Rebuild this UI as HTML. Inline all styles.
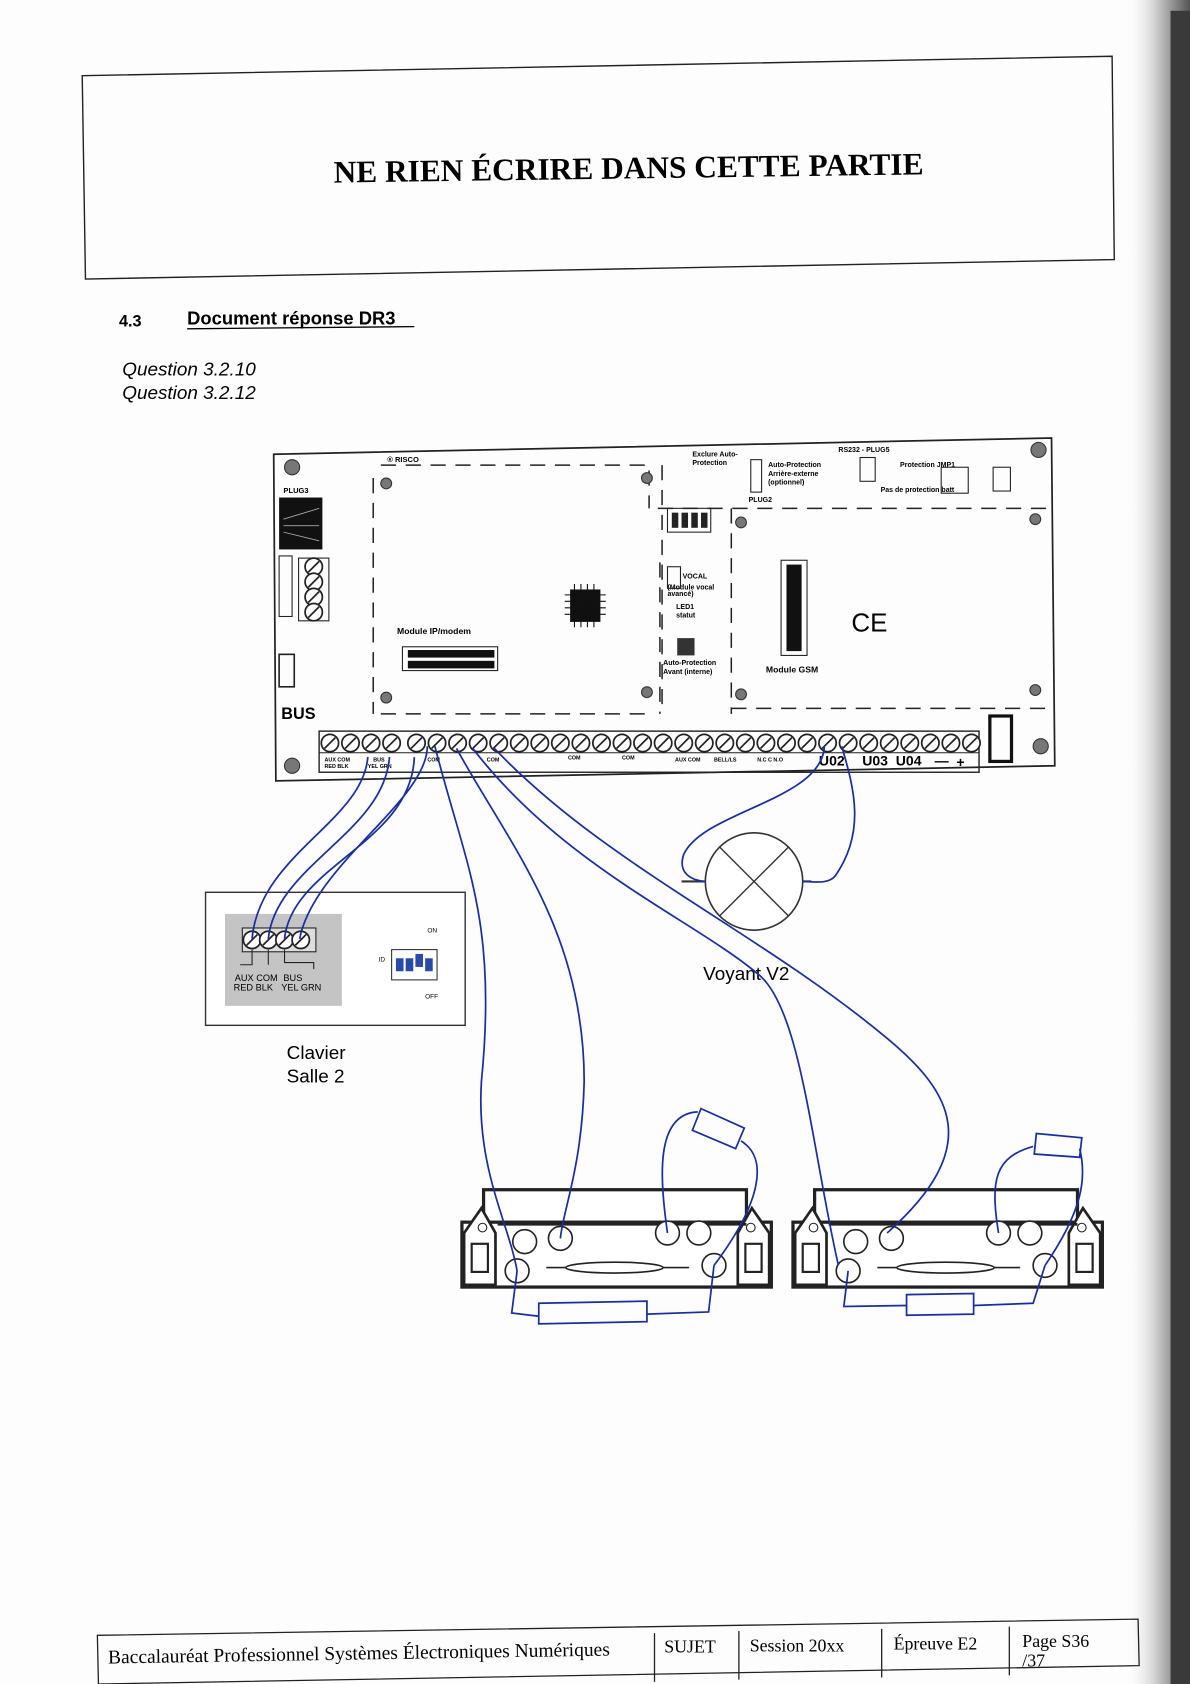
<!DOCTYPE html>
<html><head><meta charset="utf-8"><style>
html,body{margin:0;padding:0;background:#fff}
svg{display:block}
</style></head><body>
<svg width="1190" height="1684" viewBox="0 0 1100 1557" preserveAspectRatio="none" xmlns="http://www.w3.org/2000/svg" font-family="Liberation Sans, sans-serif">
<defs>
<linearGradient id="sh" x1="0" x2="1"><stop offset="0" stop-color="#fff" stop-opacity="0"/><stop offset="0.5" stop-color="#c8c8c8"/><stop offset="1" stop-color="#555"/></linearGradient>
<g id="scr"><circle r="8" fill="#fff" stroke="#222" stroke-width="1.6"/><line x1="-5" y1="5" x2="5" y2="-5" stroke="#222" stroke-width="1.6"/></g>
</defs>
<rect width="1100" height="1557" fill="#fdfdfd"/>
<rect x="1040" y="0" width="60" height="1557" fill="url(#sh)"/>
<rect x="1082" y="10" width="18" height="1547" fill="#3a3a3a"/>
<!-- header -->
<polygon points="76,70 1028,52 1030,240 79,258" fill="none" stroke="#222" stroke-width="1.3"/>
<text x="581" y="165" text-anchor="middle" font-family="Liberation Serif, serif" font-weight="bold" font-size="29" transform="rotate(-0.8 583 155)">NE RIEN ÉCRIRE DANS CETTE PARTIE</text>
<text x="110" y="302" font-weight="bold" font-size="15">4.3</text>
<text x="173" y="300" font-weight="bold" font-size="17">Document réponse DR3</text>
<line x1="173" y1="304" x2="383" y2="302" stroke="#000" stroke-width="1.2"/>
<text x="113" y="347" font-style="italic" font-size="17.5">Question 3.2.10</text>
<text x="113" y="369" font-style="italic" font-size="17.5">Question 3.2.12</text>
<!-- board -->
<g stroke="#222" fill="none">
<polygon points="253,420 972,405 975,708 255,722" stroke-width="1.6"/>
<path d="M345,442 V660 M352,660 H605 M352,430 H600 V470 M608,470 H975 M676,470 V660 M676,655 H975 M612,430 V660 M610,520 V660" stroke-width="1.4" stroke-dasharray="14,9"/>
</g>
<g fill="#777" stroke="#333"><circle cx="270" cy="432" r="7"/><circle cx="960" cy="416" r="7"/><circle cx="270" cy="708" r="7"/><circle cx="962" cy="690" r="7"/><circle cx="357" cy="447" r="5"/><circle cx="598" cy="442" r="5"/><circle cx="357" cy="645" r="5"/><circle cx="598" cy="640" r="5"/><circle cx="685" cy="483" r="5"/><circle cx="957" cy="480" r="5"/><circle cx="685" cy="642" r="5"/><circle cx="957" cy="638" r="5"/></g>
<text x="358" y="427" font-size="7" font-weight="bold">® RISCO</text>
<text x="262" y="456" font-size="7" font-weight="bold">PLUG3</text>
<rect x="258" y="460" width="40" height="48" fill="#111"/>
<g fill="none" stroke="#aaa" stroke-width="0.8"><path d="M262,480 L295,470 M262,486 L295,486 M262,492 L295,500"/></g>
<rect x="258" y="514" width="12" height="56" fill="none" stroke="#222"/>
<g transform="translate(290,524)"><use href="#scr"/><use href="#scr" y="14"/><use href="#scr" y="28"/><use href="#scr" y="42"/></g>
<rect x="276" y="516" width="28" height="58" fill="none" stroke="#222"/>
<rect x="258" y="605" width="14" height="30" fill="none" stroke="#222" stroke-width="1.5"/>
<text x="260" y="665" font-size="15" font-weight="bold">BUS</text>
<text x="367" y="586" font-size="8" font-weight="bold">Module IP/modem</text>
<rect x="372" y="598" width="88" height="22" fill="#fff" stroke="#222"/>
<g fill="#111"><rect x="377" y="601" width="80" height="7"/><rect x="377" y="611" width="80" height="7"/></g>
<rect x="527" y="545" width="28" height="30" fill="#111"/>
<g stroke="#111"><path d="M531,540 V580 M537,540 V580 M543,540 V580 M549,540 V580 M522,550 H560 M522,556 H560 M522,562 H560 M522,568 H560"/></g>
<rect x="617" y="470" width="40" height="22" fill="none" stroke="#222"/>
<g fill="#222"><rect x="621" y="474" width="6" height="14"/><rect x="630" y="474" width="6" height="14"/><rect x="639" y="474" width="6" height="14"/><rect x="648" y="474" width="6" height="14"/></g>
<g font-size="6.5" font-weight="bold"><text x="640" y="422">Exclure Auto-</text><text x="640" y="430">Protection</text>
<text x="710" y="432">Auto-Protection</text><text x="710" y="440">Arrière-externe</text><text x="710" y="448">(optionnel)</text><text x="692" y="464">PLUG2</text>
<text x="775" y="418">RS232 - PLUG5</text><text x="832" y="432">Protection JMP1</text><text x="814" y="455">Pas de protection batt</text>
<text x="631" y="535">VOCAL</text><text x="617" y="545">(Module vocal</text><text x="617" y="551">avancé)</text><text x="625" y="563">LED1</text><text x="625" y="571">statut</text>
<text x="613" y="615">Auto-Protection</text><text x="613" y="623">Avant (interne)</text>
<text x="708" y="622" font-size="8">Module GSM</text></g>
<rect x="617" y="524" width="12" height="20" fill="none" stroke="#222"/>
<rect x="626" y="590" width="16" height="16" fill="#333"/>
<rect x="694" y="425" width="10" height="30" fill="none" stroke="#222"/>
<rect x="795" y="423" width="14" height="22" fill="none" stroke="#222"/>
<rect x="870" y="432" width="25" height="24" fill="none" stroke="#222"/>
<rect x="918" y="432" width="16" height="22" fill="none" stroke="#222"/>
<rect x="722" y="518" width="24" height="88" fill="#fff" stroke="#222"/>
<g fill="#111"><rect x="727" y="522" width="14" height="80"/></g>
<text x="787" y="584" font-size="24">CE</text>
<!-- terminal strip -->
<rect x="295" y="676" width="610" height="38" fill="none" stroke="#222" stroke-width="1.3"/>
<line x1="295" y1="696" x2="905" y2="696" stroke="#222"/>
<g transform="translate(305,687)">
<use href="#scr" x="0"/><use href="#scr" x="19"/><use href="#scr" x="38"/><use href="#scr" x="57"/><use href="#scr" x="80"/><use href="#scr" x="99"/><use href="#scr" x="118"/><use href="#scr" x="137"/><use href="#scr" x="156"/><use href="#scr" x="175"/><use href="#scr" x="194"/><use href="#scr" x="213"/><use href="#scr" x="232"/><use href="#scr" x="251"/><use href="#scr" x="270"/><use href="#scr" x="289"/><use href="#scr" x="308"/><use href="#scr" x="327"/><use href="#scr" x="346"/><use href="#scr" x="365"/><use href="#scr" x="384"/><use href="#scr" x="403"/><use href="#scr" x="422"/><use href="#scr" x="441"/><use href="#scr" x="460"/><use href="#scr" x="479"/><use href="#scr" x="498"/><use href="#scr" x="517"/><use href="#scr" x="536"/><use href="#scr" x="555"/><use href="#scr" x="574"/><use href="#scr" x="593"/></g>
<g font-size="5" font-weight="bold"><text x="300" y="704">AUX COM</text><text x="345" y="704">BUS</text><text x="300" y="710">RED BLK</text><text x="340" y="710">YEL GRN</text><text x="395" y="704">COM</text><text x="450" y="704">COM</text><text x="525" y="702">COM</text><text x="575" y="702">COM</text><text x="624" y="704">AUX COM</text><text x="660" y="704">BELL/LS</text><text x="700" y="704">N.C C N.O</text></g>
<g font-size="13" font-weight="bold"><text x="757" y="708">U02</text><text x="797" y="708">U03</text><text x="828" y="708">U04</text><text x="864" y="708">—</text><text x="884" y="709">+</text></g>
<rect x="915" y="662" width="20" height="42" fill="none" stroke="#111" stroke-width="3"/>
<!-- keypad -->
<rect x="190" y="825" width="240" height="123" fill="#fff" stroke="#333" stroke-width="1.3"/>
<rect x="208" y="845" width="108" height="85" fill="#c4c4c4"/>
<rect x="224" y="858" width="68" height="22" fill="#ddd" stroke="#222"/>
<g transform="translate(233,869)"><use href="#scr"/><use href="#scr" x="15"/><use href="#scr" x="30"/><use href="#scr" x="45"/></g>
<path d="M233,878 V892 H222 M248,878 V892 M263,878 V890 H290 V896" fill="none" stroke="#222"/>
<g font-size="8.5"><text x="217" y="907">AUX COM</text><text x="262" y="907">BUS</text><text x="216" y="916">RED BLK</text><text x="260" y="916">YEL GRN</text>
<text x="395" y="862" font-size="6">ON</text><text x="393" y="923" font-size="6">OFF</text><text x="350" y="889" font-size="6">ID</text></g>
<rect x="362" y="878" width="42" height="28" fill="#fff" stroke="#333"/>
<g fill="#2a4aa8"><rect x="366" y="886" width="7" height="12"/><rect x="375" y="886" width="7" height="12"/><rect x="384" y="882" width="7" height="12"/><rect x="393" y="886" width="7" height="12"/></g>
<text x="265" y="979" font-size="17.5">Clavier</text>
<text x="265" y="1001" font-size="17.5">Salle 2</text>
<!-- lamp -->
<line x1="630" y1="815" x2="750" y2="815" stroke="#333" stroke-width="2"/>
<circle cx="697" cy="815" r="45" fill="#fff" stroke="#333" stroke-width="1.5"/>
<path d="M665,783 L729,847 M729,783 L665,847" stroke="#333" stroke-width="1.3"/>
<text x="650" y="906" font-size="17.5">Voyant V2</text>
<!-- detectors -->
<g id="det" stroke="#222" fill="#fff">
<rect x="447" y="1100" width="243" height="50" stroke-width="3"/>
<rect x="427" y="1130" width="286" height="60" stroke-width="3"/>
<path d="M429,1188 V1140 L445,1117 L458,1140 V1188 Z M711,1188 V1140 L695,1117 L682,1140 V1188 Z" stroke-width="2.5"/>
<rect x="436" y="1150" width="15" height="26" stroke-width="2"/><rect x="689" y="1150" width="15" height="26" stroke-width="2"/>
<circle cx="446" cy="1135" r="4"/><circle cx="694" cy="1135" r="4"/>
<line x1="460" y1="1132" x2="690" y2="1132" stroke-width="2.5"/>
<line x1="505" y1="1172" x2="637" y2="1172" stroke-width="1.5"/>
<ellipse cx="568" cy="1172" rx="45" ry="5" stroke-width="1.5"/>
<g stroke-width="1.5"><circle cx="485" cy="1148" r="11"/><circle cx="518" cy="1145" r="11"/><circle cx="617" cy="1140" r="11"/><circle cx="646" cy="1140" r="11"/><circle cx="478" cy="1175" r="11"/><circle cx="660" cy="1170" r="11"/></g>
</g>
<use href="#det" x="306" y="0"/>
<!-- wires -->
<g fill="none" stroke="#1a2ea0" stroke-width="1.6">
<path d="M340,700 C335,760 240,790 233,868"/>
<path d="M360,700 C355,770 255,800 248,868"/>
<path d="M383,700 C380,780 270,800 263,868"/>
<path d="M395,690 C395,740 290,800 277,868"/>
<path d="M402,690 C430,800 460,850 445,1000 C440,1080 470,1130 478,1175"/>
<path d="M422,692 C470,780 540,860 540,1000 C538,1080 520,1120 518,1145"/>
<path d="M437,692 C520,800 640,850 700,900 C740,930 750,1060 775,1170"/>
<path d="M457,692 C560,800 700,860 820,960 C880,1010 910,1060 820,1140"/>
<path d="M617,1140 C610,1090 605,1030 645,1028"/>
<path d="M648,1025 L688,1043 L680,1062 L640,1045 Z"/>
<path d="M685,1055 C710,1070 705,1110 660,1170"/>
<path d="M478,1175 L473,1214 L498,1217"/>
<path d="M498,1205 L598,1203 L598,1222 L498,1224 Z"/>
<path d="M598,1215 L655,1213 L660,1170"/>
<path d="M923,1140 C915,1090 920,1070 955,1060"/>
<path d="M958,1048 L1000,1052 L998,1070 L956,1067 Z"/>
<path d="M998,1062 C1005,1090 1000,1120 966,1170"/>
<path d="M784,1175 L780,1208 L838,1207"/>
<path d="M838,1197 L900,1196 L900,1215 L838,1216 Z"/>
<path d="M900,1207 L955,1205 L966,1170"/>
<path d="M762,690 C760,740 650,750 632,790 C626,808 640,814 652,815"/>
<path d="M778,690 C790,730 800,770 772,810 C765,818 752,815 742,815"/>
</g>
<!-- footer -->
<g stroke="#222" stroke-width="1.2" fill="none">
<polygon points="90,1512 1052,1497 1053,1540 91,1557"/>
<path d="M605,1510 V1555 M683,1508 V1553 M815,1506 V1551 M933,1504 V1549"/>
</g>
<g font-family="Liberation Serif, serif" font-size="16.5">
<text x="100" y="1538" font-size="18" transform="rotate(-0.9 100 1537)">Baccalauréat Professionnel Systèmes Électroniques Numériques</text>
<text x="614" y="1528">SUJET</text><text x="693" y="1527">Session 20xx</text><text x="826" y="1525">Épreuve E2</text><text x="945" y="1523">Page S36</text><text x="945" y="1541">/37</text>
</g>
</svg>
</body></html>
